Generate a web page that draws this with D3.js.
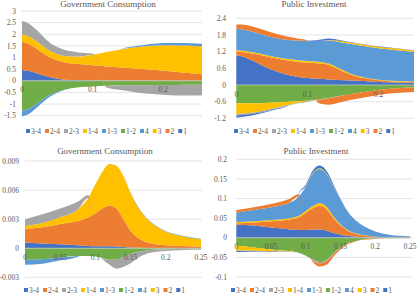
<!DOCTYPE html>
<html>
<head>
<meta charset="utf-8">
<script src="https://cdn.jsdelivr.net/npm/d3@7"></script>
<style>
  html, body { margin: 0; padding: 0; background: #fff; }
  svg { display: block; font-family: "Liberation Serif", "DejaVu Serif", serif; }
</style>
</head>
<body>
<svg width="419" height="300"></svg>
<script>
// series order (stacking bottom-up) and legend order
const seriesKeys = ["1", "2", "3", "4", "1-2", "1-3", "1-4", "2-3", "2-4", "3-4"];
const legendKeys = ["3-4", "2-4", "2-3", "1-4", "1-3", "1-2", "4", "3", "2", "1"];
const seriesColors = ["#4472C4", "#ED7D31", "#FFC000", "#5B9BD5", "#70AD47", "#5B9BD5", "#FFC000", "#A5A5A5", "#ED7D31", "#4472C4"];

// top-left: Government Consumption
const gcTopX = [0, 0.01, 0.02, 0.03, 0.04, 0.05, 0.06, 0.08, 0.1, 0.12, 0.14, 0.16, 0.18, 0.2, 0.22, 0.24, 0.255];
const gcTopSeries = {
  "1":   [0.46, 0.42, 0.34, 0.24, 0.15, 0.09, 0.05, 0.03, 0.02, 0.01, 0.01, 0.01, 0.01, 0.01, 0, 0, 0],
  "2":   [1.23, 1.16, 1.06, 0.94, 0.85, 0.79, 0.75, 0.69, 0.65, 0.61, 0.56, 0.52, 0.48, 0.43, 0.38, 0.32, 0.28],
  "3":   [0.3, 0.32, 0.32, 0.3, 0.28, 0.26, 0.27, 0.32, 0.45, 0.62, 0.78, 0.91, 1.01, 1.09, 1.14, 1.19, 1.21],
  "4":   [0, 0, 0, 0, 0, 0, 0, 0, 0, 0, 0.01, 0.04, 0.07, 0.09, 0.1, 0.1, 0.1],
  "1-2": [-1.29, -1.2, -1.0, -0.78, -0.6, -0.47, -0.38, -0.28, -0.24, -0.21, -0.2, -0.19, -0.19, -0.18, -0.18, -0.17, -0.17],
  "1-3": [-0.24, -0.22, -0.18, -0.13, -0.08, -0.04, -0.02, 0, 0, 0, 0, 0, 0, 0, 0, 0, 0],
  "2-3": [0.58, 0.55, 0.48, 0.42, 0.34, 0.31, 0.26, 0.18, 0.05, -0.08, -0.2, -0.3, -0.37, -0.42, -0.45, -0.46, -0.45]
};

// top-right: Public Investment
const piTopX = [0, 0.01, 0.025, 0.04, 0.055, 0.07, 0.085, 0.1, 0.115, 0.13, 0.145, 0.16, 0.18, 0.2, 0.225, 0.25];
const piTopSeries = {
  "1":   [1.07, 1.02, 0.85, 0.66, 0.5, 0.38, 0.3, 0.25, 0.22, 0.2, 0.18, 0.16, 0.14, 0.11, 0.09, 0.07],
  "2":   [0.14, 0.16, 0.27, 0.38, 0.46, 0.51, 0.54, 0.55, 0.56, 0.52, 0.37, 0.22, 0.11, 0.06, 0.03, 0.03],
  "3":   [0.05, 0.05, 0.05, 0.05, 0.05, 0.05, 0.06, 0.06, 0.06, 0.05, 0.04, 0.03, 0.02, 0.02, 0.02, 0.02],
  "4":   [0.76, 0.76, 0.73, 0.7, 0.68, 0.69, 0.7, 0.72, 0.75, 0.83, 0.96, 1.07, 1.13, 1.13, 1.11, 1.07],
  "1-2": [-0.66, -0.66, -0.66, -0.65, -0.63, -0.61, -0.59, -0.57, -0.52, -0.47, -0.4, -0.33, -0.25, -0.18, -0.12, -0.09],
  "1-4": [-0.39, -0.37, -0.33, -0.27, -0.2, -0.13, -0.06, -0.02, 0, 0.02, 0.04, 0.05, 0.06, 0.06, 0.06, 0.05],
  "2-3": [-0.05, -0.05, -0.04, -0.04, -0.03, -0.03, -0.02, -0.02, -0.01, -0.01, -0.01, 0, 0, 0, 0, 0],
  "2-4": [0.16, 0.18, 0.19, 0.18, 0.16, 0.12, 0.08, 0.02, -0.12, -0.23, -0.22, -0.21, -0.2, -0.18, -0.17, -0.16],
  "3-4": [-0.07, -0.06, -0.05, -0.03, -0.02, -0.01, 0, 0.01, 0.03, 0.05, 0.03, 0.02, 0.01, 0.01, 0.01, 0.01]
};

// bottom row x values
const lowX = [0, 0.025, 0.05, 0.075, 0.09, 0.1, 0.11, 0.12, 0.13, 0.14, 0.15, 0.16, 0.17, 0.18, 0.2, 0.22, 0.25];

// bottom-left: Government Consumption
const gcLowSeries = {
  "1":   [0.0006, 0.0005, 0.0004, 0.0003, 0.00022, 0.0002, 0.0002, 0.0002, 0.00018, 0.00012, 0.00007, 0.00004, 0.00002, 0.00001, 0, 0, 0],
  "2":   [0.00137, 0.00167, 0.0021, 0.0025, 0.00298, 0.0034, 0.0039, 0.0042, 0.00392, 0.00288, 0.00173, 0.00106, 0.00068, 0.00047, 0.0003, 0.00022, 0.00017],
  "3":   [0.00033, 0.00043, 0.0007, 0.0012, 0.002, 0.003, 0.0038, 0.0043, 0.0044, 0.0044, 0.0039, 0.0032, 0.0026, 0.00212, 0.0014, 0.00108, 0.00076],
  "4":   [0, 0, 0, 0, 0, 0, 0, 0, 0, 0.00002, 0.00004, 0.00005, 0.00005, 0.00005, 0.00005, 0.00005, 0.00005],
  "1-2": [-0.0012, -0.00114, -0.00095, -0.0008, -0.0008, -0.00085, -0.001, -0.0012, -0.0012, -0.0009, -0.0006, -0.0004, -0.00025, -0.00015, -0.0001, -0.00008, -0.00006],
  "1-3": [-0.0005, -0.00045, -0.0003, -0.0001, 0, 0, 0, 0, 0, 0, 0, 0, 0, 0, 0, 0, 0],
  "2-3": [0.0007, 0.0009, 0.0009, 0.0008, 0.0003, 0, -0.0001, -0.0005, -0.0009, -0.001, -0.00095, -0.0006, -0.0004, -0.0003, -0.00018, -0.00012, -0.0001]
};

// bottom-right: Public Investment
const piLowSeries = {
  "1":   [0.033, 0.031, 0.026, 0.022, 0.02, 0.02, 0.021, 0.021, 0.018, 0.012, 0.008, 0.005, 0.003, 0.002, 0.001, 0.0005, 0],
  "2":   [0.004, 0.008, 0.016, 0.024, 0.032, 0.043, 0.054, 0.06, 0.055, 0.038, 0.023, 0.013, 0.008, 0.005, 0.002, 0.0015, 0.001],
  "3":   [0.003, 0.003, 0.003, 0.003, 0.004, 0.005, 0.006, 0.007, 0.006, 0.004, 0.003, 0.002, 0.001, 0.001, 0.0005, 0, 0],
  "4":   [0.024, 0.029, 0.033, 0.039, 0.049, 0.062, 0.082, 0.087, 0.083, 0.076, 0.063, 0.047, 0.034, 0.025, 0.0125, 0.006, 0.003],
  "1-2": [-0.02, -0.025, -0.03, -0.034, -0.038, -0.045, -0.055, -0.062, -0.056, -0.04, -0.025, -0.014, -0.009, -0.005, -0.002, -0.0015, -0.001],
  "1-4": [-0.012, -0.008, -0.004, -0.0015, 0, 0.001, 0.002, 0.002, 0.002, 0.001, 0, 0, 0, 0, 0, 0, 0],
  "2-3": [-0.002, -0.002, -0.0015, -0.001, -0.001, -0.0015, -0.002, -0.003, -0.003, -0.002, -0.001, 0, 0, 0, 0, 0, 0],
  "2-4": [0.007, 0.007, 0.008, 0.01, 0.006, 0, -0.004, -0.008, -0.01, -0.006, -0.004, -0.003, -0.002, -0.001, -0.001, 0, 0],
  "3-4": [-0.002, -0.0015, -0.001, 0, 0.002, 0.004, 0.006, 0.007, 0.006, 0.004, 0.002, 0.001, 0.001, 0.0005, 0, 0, 0]
};

const gcTopYTicks = [-1.5, -1, -0.5, 0, 0.5, 1, 1.5, 2, 2.5, 3];
const piTopYTicks = [-1.2, -0.6, 0, 0.6, 1.2, 1.8, 2.4];
const gcLowYTicks = [-0.003, 0, 0.003, 0.006, 0.009];
const piLowYTicks = [-0.1, -0.05, 0, 0.05, 0.1, 0.15, 0.2];
const topXTicks = [0, 0.1, 0.2];
const lowXTicks = [0, 0.05, 0.1, 0.15, 0.2, 0.25];

let svg = d3.select("svg");
let color = d3.scaleOrdinal().domain(seriesKeys).range(seriesColors);

function drawChart(opt) {
    let g = svg.append("g");

    let xScale = d3.scaleLinear().domain(opt.xDomain).range(opt.xRange);
    let yScale = d3.scaleLinear().domain(opt.yDomain).range(opt.yRange);

    // build rows for the stack, missing series count as zero
    let rows = opt.xs.map(function (x, i) {
        let row = { x: x };
        seriesKeys.forEach(function (k) {
            row[k] = opt.series[k] ? opt.series[k][i] : 0;
        });
        return row;
    });

    let stacked = d3.stack().keys(seriesKeys).offset(d3.stackOffsetDiverging)(rows);

    // gridlines
    g.append("g")
        .selectAll("line")
        .data(opt.yTicks)
        .enter().append("line")
        .attr("x1", opt.gridX[0])
        .attr("x2", opt.gridX[1])
        .attr("y1", d => yScale(d))
        .attr("y2", d => yScale(d))
        .attr("stroke", "#d9d9d9")
        .attr("stroke-width", 0.7);

    let area = d3.area()
        .x(d => xScale(d.data.x))
        .y0(d => yScale(d[0]))
        .y1(d => yScale(d[1]))
        .curve(d3.curveMonotoneX);

    g.append("g")
        .selectAll("path")
        .data(stacked)
        .enter().append("path")
        .attr("fill", d => color(d.key))
        .attr("d", area);

    // zero line
    g.append("line")
        .attr("x1", opt.gridX[0])
        .attr("x2", opt.gridX[1])
        .attr("y1", yScale(0))
        .attr("y2", yScale(0))
        .attr("stroke", "#d0d0d0")
        .attr("stroke-width", 0.7);

    // y tick labels
    g.append("g")
        .selectAll("text")
        .data(opt.yTicks)
        .enter().append("text")
        .attr("x", opt.yLabelX)
        .attr("y", d => yScale(d))
        .attr("dy", "0.35em")
        .attr("text-anchor", "end")
        .attr("font-size", "7.5px")
        .attr("fill", "#595959")
        .text(d => d);

    // x tick labels, sitting under the zero line
    g.append("g")
        .selectAll("text")
        .data(opt.xTicks)
        .enter().append("text")
        .attr("x", d => xScale(d))
        .attr("y", yScale(0) + 9)
        .attr("dy", "0.35em")
        .attr("text-anchor", "middle")
        .attr("font-size", "7.5px")
        .attr("fill", "#595959")
        .text(d => d);

    // title
    g.append("text")
        .attr("x", opt.titleX)
        .attr("y", opt.titleY)
        .attr("text-anchor", "middle")
        .attr("font-size", "9px")
        .attr("font-weight", "normal")
        .attr("fill", "#595959")
        .text(opt.title);

    // legend
    let lx = opt.legendX;
    legendKeys.forEach(function (k) {
        g.append("rect")
            .attr("x", lx)
            .attr("y", opt.legendY - 2)
            .attr("width", 4)
            .attr("height", 4)
            .attr("fill", color(k));
        let t = g.append("text")
            .attr("x", lx + 5)
            .attr("y", opt.legendY)
            .attr("dy", "0.35em")
            .attr("font-size", "7.5px")
            .attr("fill", "#595959")
            .text(k);
        lx += 5 + t.node().getComputedTextLength() + 4;
    });
}

drawChart({
    title: "Government Consumption", titleX: 108, titleY: 7,
    xs: gcTopX, series: gcTopSeries,
    xDomain: [0, 0.255], xRange: [22, 202],
    yDomain: [-1.5, 3], yRange: [115.7, 11],
    gridX: [21, 202], yLabelX: 16,
    yTicks: gcTopYTicks, xTicks: topXTicks,
    legendX: 26, legendY: 131
});

drawChart({
    title: "Public Investment", titleX: 314, titleY: 7,
    xs: piTopX, series: piTopSeries,
    xDomain: [0, 0.25], xRange: [236.3, 414],
    yDomain: [-1.2, 2.4], yRange: [118.3, 18.3],
    gridX: [236, 414], yLabelX: 226,
    yTicks: piTopYTicks, xTicks: topXTicks,
    legendX: 234, legendY: 131
});

drawChart({
    title: "Government Consumption", titleX: 105, titleY: 154,
    xs: lowX, series: gcLowSeries,
    xDomain: [0, 0.25], xRange: [25, 201],
    yDomain: [-0.003, 0.009], yRange: [277.3, 161],
    gridX: [25, 202], yLabelX: 19,
    yTicks: gcLowYTicks, xTicks: lowXTicks,
    legendX: 24, legendY: 290
});

drawChart({
    title: "Public Investment", titleX: 316, titleY: 154,
    xs: lowX, series: piLowSeries,
    xDomain: [0, 0.25], xRange: [236.3, 410],
    yDomain: [-0.1, 0.2], yRange: [277, 159.3],
    gridX: [236, 412], yLabelX: 227,
    yTicks: piLowYTicks, xTicks: lowXTicks,
    legendX: 231, legendY: 290
});
</script>
</body>
</html>
